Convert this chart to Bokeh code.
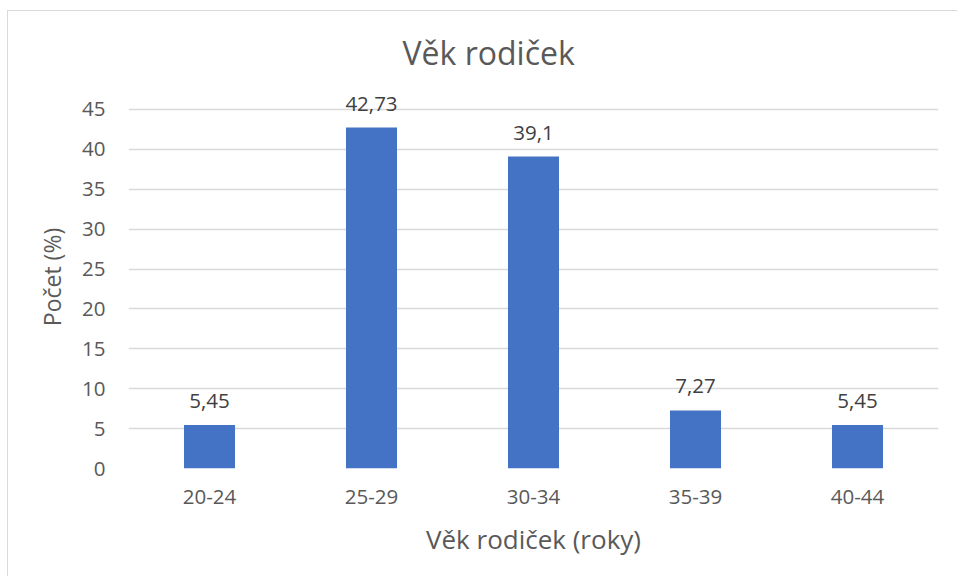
from bokeh.plotting import figure
from bokeh.models import ColumnDataSource, Range1d, FactorRange, LabelSet
from bokeh.core.properties import value
from bokeh.embed import file_html
from bokeh.resources import INLINE

categories = ["20-24", "25-29", "30-34", "35-39", "40-44"]
values = [5.45, 42.73, 39.1, 7.27, 5.45]
value_labels = [str(v).replace(".", ",") for v in values]
y_ticks = [0, 5, 10, 15, 20, 25, 30, 35, 40, 45]

FONT = "Open Sans"
GRAY = "#595959"

source = ColumnDataSource(dict(cat=categories, val=values, lab=value_labels))

p = figure(
    width=950, height=566,
    x_range=FactorRange(*categories),
    y_range=Range1d(0, 48),
    output_backend="svg", toolbar_location=None,
    min_border_left=120, min_border_right=20,
    min_border_top=74, min_border_bottom=109,
)
p.styles = {"margin-left": "7px", "margin-top": "10px",
            "border-left": "1px solid #d9d9d9", "border-top": "1px solid #d9d9d9"}

p.vbar(x="cat", top="val", width=0.315, source=source, color="#4472C4", line_color=None)

labels = LabelSet(x="cat", y="val", text="lab", source=source,
                  text_align="center", text_baseline="alphabetic", y_offset=17,
                  text_font=value(FONT), text_font_size="20.5px", text_color="#404040")
p.add_layout(labels)

p.title.text = "Věk rodiček"
p.title.align = "left"
p.title.offset = 274
p.title.standoff = 24
p.title.text_font = FONT
p.title.text_font_size = "32px"
p.title.text_font_style = "normal"
p.title.text_color = GRAY

p.outline_line_color = None
p.xgrid.grid_line_color = None
p.ygrid.grid_line_color = "#D9D9D9"
p.ygrid.grid_line_width = 1.3
p.yaxis.ticker = y_ticks

for ax in (p.xaxis[0], p.yaxis[0]):
    ax.axis_line_color = None
    ax.major_tick_line_color = None
    ax.minor_tick_line_color = None
    ax.major_tick_in = 0
    ax.major_tick_out = 0
    ax.major_label_text_font = FONT
    ax.major_label_text_font_size = "20.5px"
    ax.major_label_text_color = GRAY
    ax.axis_label_text_font = FONT
    ax.axis_label_text_font_style = "normal"
    ax.axis_label_text_color = GRAY

p.yaxis.axis_label = "Počet (%)"
p.yaxis.axis_label_text_font_size = "23px"
p.yaxis.major_label_standoff = 23
p.yaxis.axis_label_standoff = 11
p.xaxis.axis_label = "Věk rodiček (roky)"
p.xaxis.axis_label_text_font_size = "26px"
p.xaxis.major_label_standoff = 21
p.xaxis.axis_label_standoff = 14

open("out.html", "w").write(file_html(p, INLINE))
